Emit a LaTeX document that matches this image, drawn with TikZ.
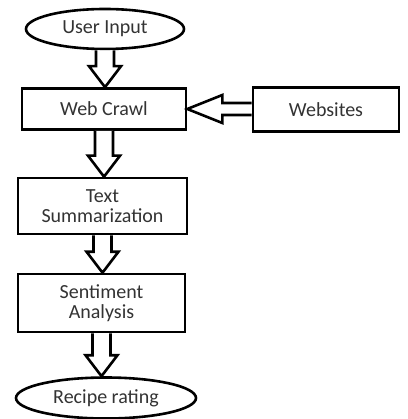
\documentclass[tikz,border=0pt]{standalone}
\usepackage{fontspec}
\setmainfont{Carlito}
\usetikzlibrary{shapes.geometric,calc}
\definecolor{txt}{HTML}{333333}
\tikzset{
  base/.style={draw=black, line width=2.6pt, fill=white, inner sep=0pt, align=center,
    text=txt, font=\fontsize{20}{22}\selectfont},
  oval/.style={base, ellipse},
  box/.style={base, rectangle},
  barrow/.style={draw=black, fill=white, line width=2.6pt, line join=miter}
}
\newcommand\blkdown[2]{%
  \draw[barrow] let \p1=(#1.south), \p2=(#2.north) in
    (\x1-9pt,\y1) -- (\x1-9pt,\y2+21pt) -- (\x1-16pt,\y2+21pt) -- (\x1,\y2)
    -- (\x1+16pt,\y2+21pt) -- (\x1+9pt,\y2+21pt) -- (\x1+9pt,\y1);}
\begin{document}
\begin{tikzpicture}[x=1pt,y=-1pt]
\useasboundingbox (0,0) rectangle (407,419);
\node[oval, minimum width=158pt, minimum height=40pt] (ui) at (105,29) {User Input};
\node[box, minimum width=164pt, minimum height=41pt] (wc) at (104,109) {Web Crawl};
\node[box, minimum width=146pt, minimum height=44pt] (ws) at (326,109.5) {Websites};
\node[box, minimum width=169pt, minimum height=56pt] (ts) at (102.5,206) {Text\\[-2pt]Summarization};
\node[box, minimum width=167pt, minimum height=58pt] (sa) at (101.5,303) {Sentiment\\[-2pt]Analysis};
\node[oval, minimum width=180pt, minimum height=41pt] (rr) at (106,398) {Recipe rating};
\blkdown{ui}{wc}
\blkdown{wc}{ts}
\blkdown{ts}{sa}
\blkdown{sa}{rr}
\draw[barrow] let \p1=(ws.west), \p2=(wc.east) in
  (\x1,\y2+6pt) -- (\x2+35pt,\y2+6pt) -- (\x2+35pt,\y2+14pt) -- (\x2,\y2)
  -- (\x2+35pt,\y2-14pt) -- (\x2+35pt,\y2-6pt) -- (\x1,\y2-6pt);
\end{tikzpicture}
\end{document}
